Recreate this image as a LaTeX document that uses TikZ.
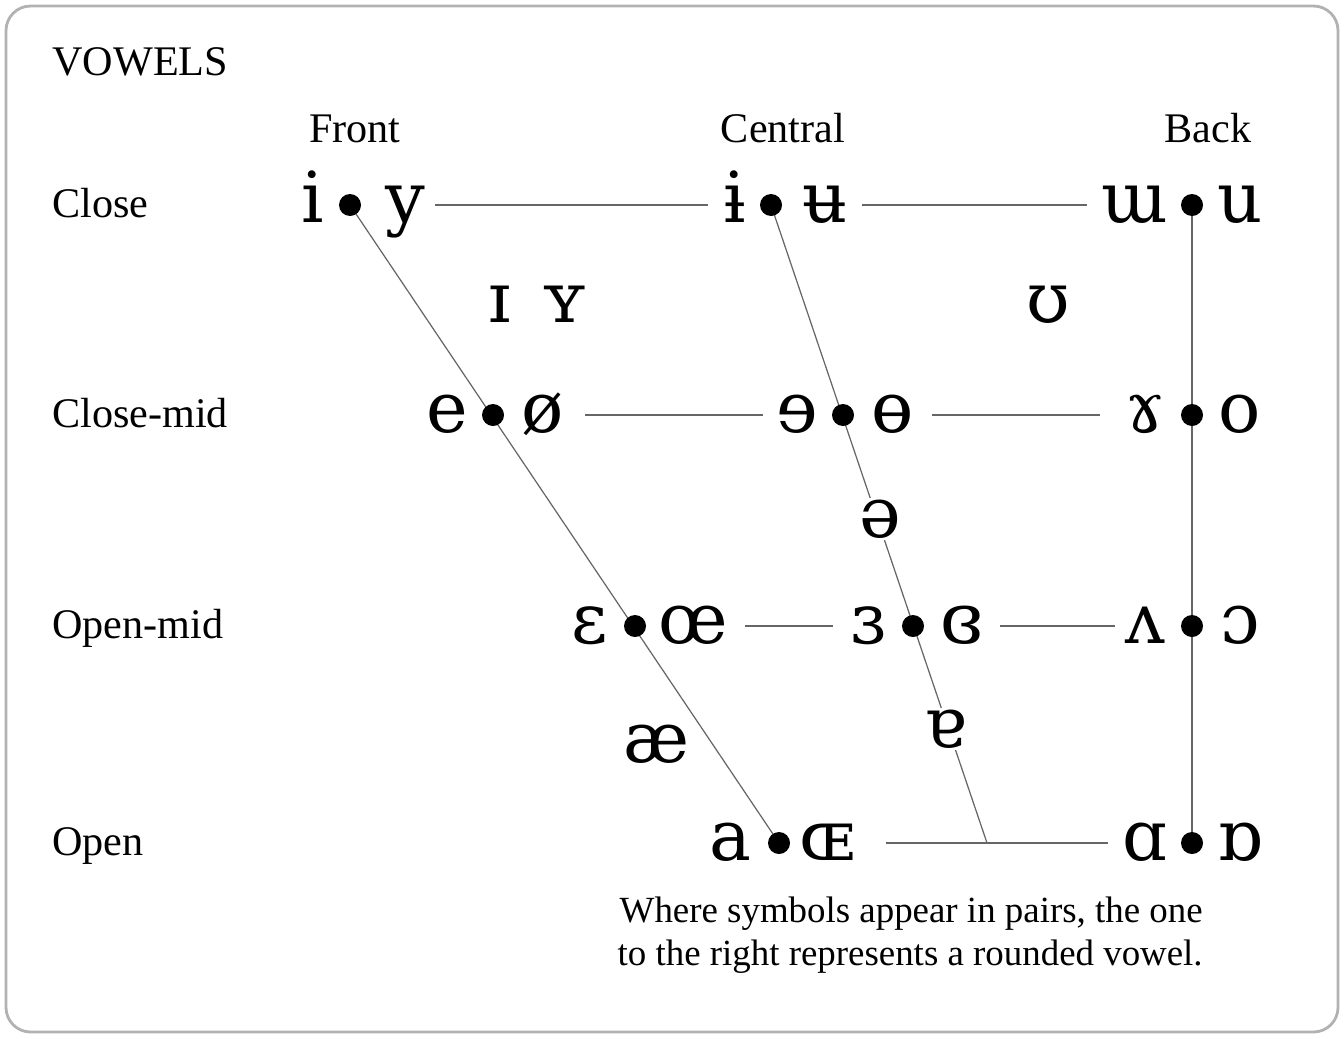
\documentclass[tikz,border=0pt]{standalone}
\usepackage{fontspec}
\setmainfont{Liberation Serif}
\newfontfamily\ipafont{DejaVu Serif}
\tikzset{
  vowel/.style = {font=\ipafont\fontsize{40}{40}\selectfont, inner sep=1pt, anchor=base},
  label/.style = {font=\fontsize{24}{24}\selectfont, anchor=base west, inner sep=0pt},
  head/.style = {font=\fontsize{24}{24}\selectfont, anchor=base, inner sep=0pt},
  pt/.style = {circle, fill, inner sep=0pt, minimum size=0.44cm},
  chart/.style = {gray!80!black, line width=0.7pt}
}
\begin{document}
\begin{tikzpicture}[x=0.02cm, y=-0.02cm]
  \useasboundingbox (0,0) rectangle (1344,1038);
  \draw[gray!60, line width=1.6pt, rounded corners=14pt] (6,6) rectangle (1338,1032);
  % labels
  \node[label] (title) at (52,75) {VOWELS};
  \node[head] (front) at (355,142) {Front};
  \node[head] (central) at (783,142) {Central};
  \node[head] (back) at (1208,142) {Back};
  \node[label] (close) at (52,217) {Close};
  \node[label] (closemid) at (52,427) {Close-mid};
  \node[label] (openmid) at (52,638) {Open-mid};
  \node[label] (open) at (52,855) {Open};
  % corners of the chart
  \coordinate (fc) at (350,205);
  \coordinate (cc) at (771,205);
  \coordinate (bc) at (1192,205);
  \coordinate (fo) at (779,843);
  \coordinate (co) at (987,843);
  \coordinate (bo) at (1192,843);
  % frame lines
  \draw[chart] (fc) -- (fo);
  \draw[chart] (cc) -- (co);
  \draw[chart] (bc) -- (bo);
  \draw[chart] (435,205) coordinate (h1a) -- (708,205) coordinate (h1b);
  \draw[chart] (862,205) coordinate (h2a) -- (1087,205) coordinate (h2b);
  \draw[chart] (585,415) coordinate (h3a) -- (763,415) coordinate (h3b);
  \draw[chart] (932,415) coordinate (h4a) -- (1100,415) coordinate (h4b);
  \draw[chart] (745,626) coordinate (h5a) -- (833,626) coordinate (h5b);
  \draw[chart] (1000,626) coordinate (h6a) -- (1115,626) coordinate (h6b);
  \draw[chart] (886,843) coordinate (h7a) -- (1108,843) coordinate (h7b);
  % dots
  \foreach \x/\y [count=\i] in {350/205,771/205,1192/205,493/415,843/415,1192/415,
      635/626,913/626,1192/626,779/843,1192/843}
    \node[pt] (d\i) at (\x,\y) {};
  % close
  \node[vowel] (i) at (313,222) {i};
  \node[vowel] (y) at (405,222) {y};
  \node[vowel] (ibar) at (735,222) {ɨ};
  \node[vowel] (ubar) at (825,222) {ʉ};
  \node[vowel] (turnm) at (1135,222) {ɯ};
  \node[vowel] (u) at (1240,222) {u};
  % near-close
  \node[vowel] (smallcapi) at (500,322) {ɪ};
  \node[vowel] (smallcapy) at (565,322) {ʏ};
  \node[vowel] (upsilon) at (1048,322) {ʊ};
  % close-mid
  \node[vowel] (e) at (447,432) {e};
  \node[vowel] (oslash) at (543,432) {ø};
  \node[vowel] (reve) at (797,432) {ɘ};
  \node[vowel] (baro) at (893,432) {ɵ};
  \node[vowel] (ramshorn) at (1145,432) {ɤ};
  \node[vowel] (o) at (1240,432) {o};
  % mid
  \node[vowel, fill=white] (schwa) at (880,537) {ə};
  % open-mid
  \node[vowel] (epsilon) at (590,643) {ɛ};
  \node[vowel] (oe) at (693,643) {œ};
  \node[vowel] (revepsilon) at (868,643) {ɜ};
  \node[vowel] (closedrevepsilon) at (962,643) {ɞ};
  \node[vowel] (turnv) at (1145,643) {ʌ};
  \node[vowel] (openo) at (1240,643) {ɔ};
  % near-open
  \node[vowel] (ash) at (657,762) {æ};
  \node[vowel, fill=white] (turna) at (945,747) {ɐ};
  % open
  \node[vowel] (a) at (730,860) {a};
  \node[vowel] (smallcapoe) at (827,860) {ɶ};
  \node[vowel] (alpha) at (1145,860) {ɑ};
  \node[vowel] (turnalpha) at (1240,860) {ɒ};
  % note
  \node[font=\fontsize{21}{24}\selectfont, align=right, anchor=north east, inner sep=0pt]
    (note) at (1203,897) {Where symbols appear in pairs, the one\\to the right represents a rounded vowel.};
\end{tikzpicture}
\end{document}
